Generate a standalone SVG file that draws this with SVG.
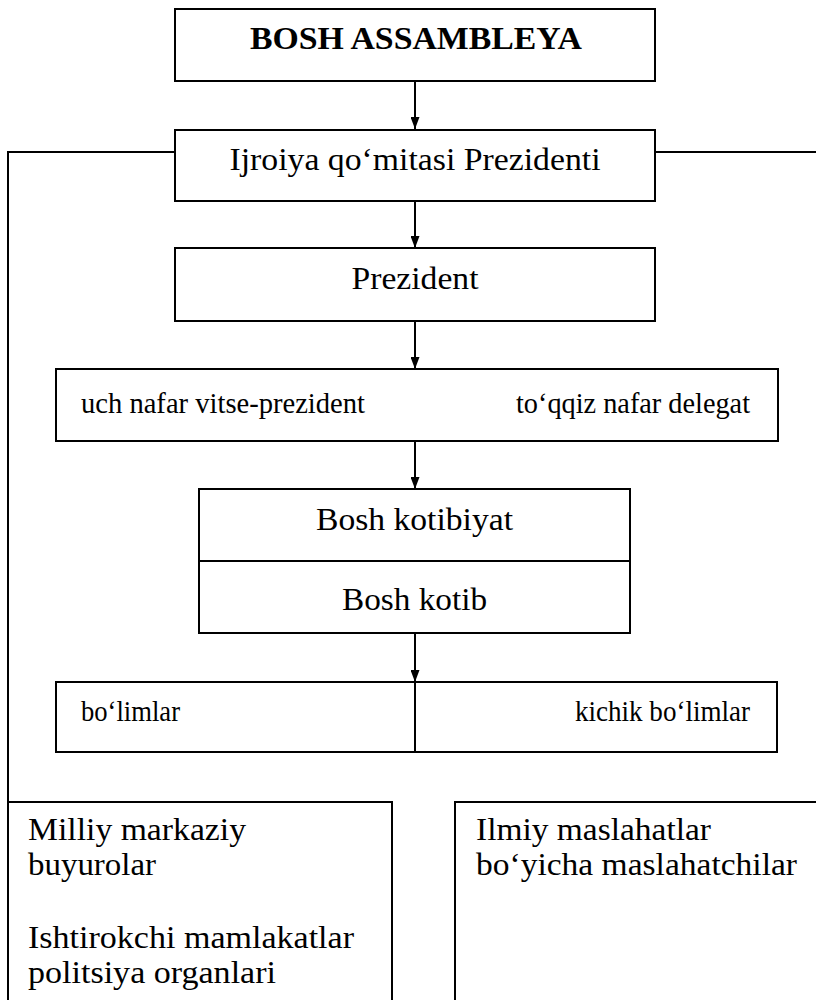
<svg xmlns="http://www.w3.org/2000/svg" width="816" height="1000" viewBox="0 0 816 1000">
<defs>
<marker id="arr" markerWidth="12" markerHeight="9" refX="12" refY="4.5" orient="auto" markerUnits="userSpaceOnUse" viewBox="0 0 12 9">
<path d="M0,0 L12,4.5 L0,9 Z" fill="#000"/>
</marker>
<style>
.box{fill:#fff;stroke:#000;stroke-width:2}
.ln{fill:none;stroke:#000;stroke-width:2}
.t{font-family:"Liberation Serif","DejaVu Serif",serif;fill:#000;font-size:32px}
.s{font-family:"Liberation Serif","DejaVu Serif",serif;fill:#000;font-size:29px}
.b{font-weight:bold}
</style>
</defs>
<rect width="816" height="1000" fill="#fff"/>
<g id="connectors">
<path class="ln" d="M415,81 L415,129" marker-end="url(#arr)"/>
<path class="ln" d="M415,201 L415,248" marker-end="url(#arr)"/>
<path class="ln" d="M415,321 L415,369" marker-end="url(#arr)"/>
<path class="ln" d="M415,441 L415,489" marker-end="url(#arr)"/>
<path class="ln" d="M415,633 L415,682" marker-end="url(#arr)"/>
<path class="ln" d="M175,152 L8,152 L8,802"/>
<path class="ln" d="M655,152 L816,152"/>
</g>
<g id="bosh-assambleya">
<rect class="box" x="175" y="9" width="480" height="72"/>
<text class="t b" x="416" y="49" text-anchor="middle" textLength="332" lengthAdjust="spacingAndGlyphs">BOSH ASSAMBLEYA</text>
</g>
<g id="ijroiya">
<rect class="box" x="175" y="130" width="480" height="71"/>
<text class="t" x="415" y="170" text-anchor="middle" textLength="371" lengthAdjust="spacingAndGlyphs">Ijroiya qo‘mitasi Prezidenti</text>
</g>
<g id="prezident">
<rect class="box" x="175" y="248" width="480" height="73"/>
<text class="t" x="415" y="289" text-anchor="middle" textLength="127" lengthAdjust="spacingAndGlyphs">Prezident</text>
</g>
<g id="vitse">
<rect class="box" x="56" y="369" width="722" height="72"/>
<text class="s" x="81" y="413" textLength="284" lengthAdjust="spacingAndGlyphs">uch nafar vitse-prezident</text>
<text class="s" x="516" y="413" textLength="234" lengthAdjust="spacingAndGlyphs">to‘qqiz nafar delegat</text>
</g>
<g id="kotibiyat">
<rect class="box" x="199" y="489" width="431" height="144"/>
<line class="ln" x1="199" y1="561" x2="630" y2="561"/>
<text class="t" x="316" y="530" textLength="197" lengthAdjust="spacingAndGlyphs">Bosh kotibiyat</text>
<text class="t" x="342" y="610" textLength="145" lengthAdjust="spacingAndGlyphs">Bosh kotib</text>
</g>
<g id="bolimlar">
<rect class="box" x="56" y="682" width="721" height="70"/>
<line class="ln" x1="415" y1="682" x2="415" y2="752"/>
<text class="s" x="81" y="721" textLength="99" lengthAdjust="spacingAndGlyphs">bo‘limlar</text>
<text class="s" x="575" y="721" textLength="175" lengthAdjust="spacingAndGlyphs">kichik bo‘limlar</text>
</g>
<g id="milliy">
<rect class="box" x="8" y="802" width="384" height="210"/>
<text class="t" x="28" y="840" textLength="218" lengthAdjust="spacingAndGlyphs">Milliy markaziy</text>
<text class="t" x="28" y="875" textLength="128" lengthAdjust="spacingAndGlyphs">buyurolar</text>
<text class="t" x="28" y="948" textLength="326" lengthAdjust="spacingAndGlyphs">Ishtirokchi mamlakatlar</text>
<text class="t" x="28" y="983" textLength="248" lengthAdjust="spacingAndGlyphs">politsiya organlari</text>
</g>
<g id="ilmiy">
<rect class="box" x="455" y="802" width="380" height="210"/>
<text class="t" x="476" y="840" textLength="235" lengthAdjust="spacingAndGlyphs">Ilmiy maslahatlar</text>
<text class="t" x="476" y="875" textLength="321" lengthAdjust="spacingAndGlyphs">bo‘yicha maslahatchilar</text>
</g>
</svg>
